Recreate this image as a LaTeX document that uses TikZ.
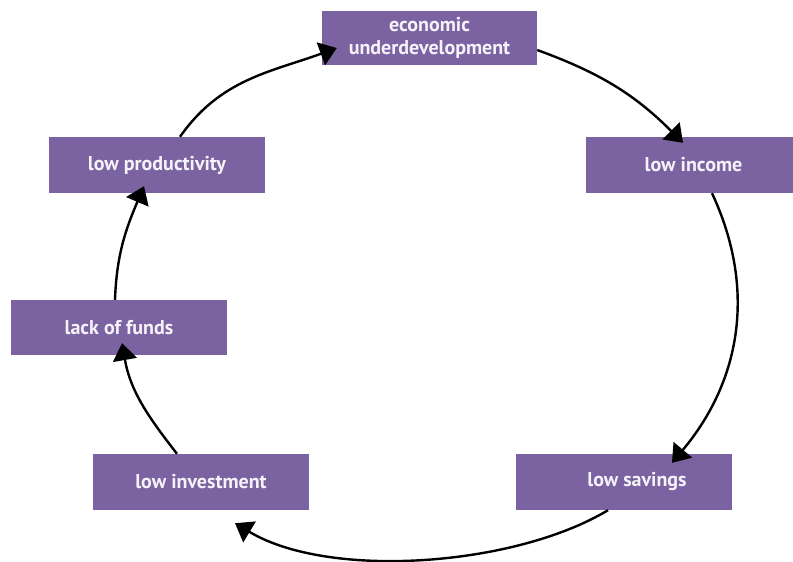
\documentclass[tikz,border=0pt]{standalone}
\usepackage{fontspec}
\setmainfont{PT Sans}
\usetikzlibrary{arrows.meta,calc}
\definecolor{boxpurple}{RGB}{122,99,160}
\definecolor{boxtext}{RGB}{246,242,250}
\tikzset{
  causebox/.style={fill=boxpurple, draw=none, minimum width=216pt, minimum height=56pt,
    inner sep=0pt, text=boxtext, align=center,
    font=\fontsize{20}{23}\selectfont\bfseries},
  cyclearrow/.style={line width=2.4pt, black,
    -{Triangle[length=17pt,width=24pt]}}
}
\begin{document}
\begin{tikzpicture}[x=1pt,y=1pt]
\useasboundingbox (0,0) rectangle (793,-562);
\begin{scope}
\clip (0,0) rectangle (793,-562);
\node[causebox, minimum width=215pt, minimum height=54pt] (eu) at (429.5,-38) {economic\\underdevelopment};
\node[causebox, minimum width=215pt] (li) at (693.5,-165) {low income};
\node[causebox] (lp) at (157,-165) {low productivity};
\node[causebox, minimum height=55pt] (lf) at (119,-327.5) {lack of funds};
\node[causebox] (inv) at (201,-482) {low investment};
\node[causebox] (sav) at (624,-482) {\hspace*{26pt}low savings};

\draw[cyclearrow] ($(lp.north)+(23,0)$) to[out=55,in=200] ($(eu.west)+(15,-10)$);
\draw[cyclearrow] ($(eu.east)+(0,-12)$) to[out=-20,in=135] ($(li.north)+(-10.5,-6)$);
\draw[cyclearrow] ($(li.south)+(18.5,0)$) to[out=-65,in=50] ($(sav.north)+(48,-9)$);
\draw[cyclearrow] ($(sav.south)+(-16,0)$) to[out=211,in=-31,looseness=0.75] ($(inv.south)+(34,-13)$);
\draw[cyclearrow] ($(inv.north)+(-24,0)$) to[out=128,in=-80] ($(lf.south)+(3,12)$);
\draw[cyclearrow] ($(lf.north)+(-4,0)$) to[out=88,in=-113] ($(lp.south)+(-13,7)$);
\end{scope}
\end{tikzpicture}
\end{document}
